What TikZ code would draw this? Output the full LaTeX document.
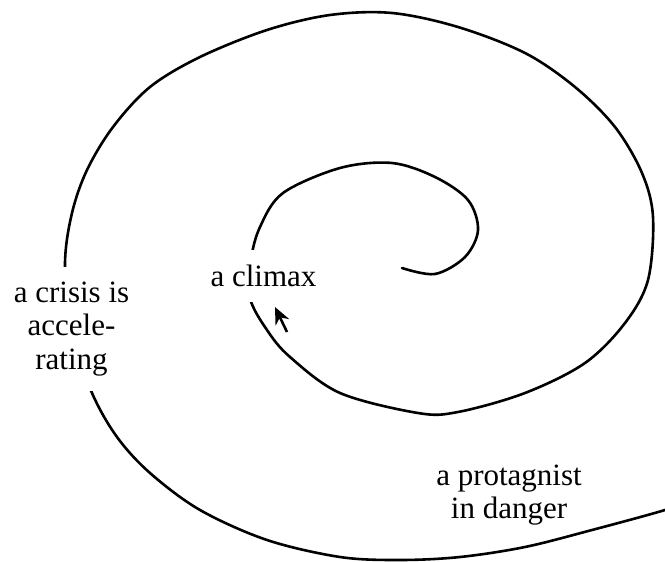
\documentclass[tikz,border=0pt]{standalone}
\usepackage{fontspec}
\setmainfont{Liberation Serif}
\usetikzlibrary{arrows.meta}

\begin{document}
\begin{tikzpicture}[
  x=1pt, y=-1pt,
  every node/.style={font=\fontsize{31}{33.5}\selectfont},
  spiral/.style={line width=2.6pt, line cap=round, smooth, tension=0.55},
  stage/.style={fill=white, align=center, inner sep=15pt},
  plain/.style={align=center, inner sep=2pt},
  pointer/.style={-{Stealth[length=17pt, width=15pt]}, line width=2.6pt}
]
\useasboundingbox (0,0) rectangle (665,562);
\clip (0,0) rectangle (665,562);

\draw[spiral] plot coordinates {
  (402,268) (435,274) (465,257) (478,230) (468,200) (435,177) (392,163)
  (340,168) (283,193) (260,227) (251,260) (250,298) (267,330) (290,357)
  (340,393) (418,413) (458,412) (525,393) (585,363) (625,323) (648,280)
  (653,217) (642,173) (615,127) (575,87) (525,53) (458,27) (392,13)
  (330,15) (267,30) (200,57) (150,87) (113,127) (87,170) (72,213)
  (65,263) (70,330) (92,393) (117,437) (150,473) (200,510) (267,540)
  (340,557) (400,560) (460,557) (525,547) (592,530) (665,510) (690,500)};

\node[stage] (climax) at (263.5,276) {a climax};
\node[stage] (crisis) at (71.5,329) {a crisis is\\accele-\\rating};
\node[plain] (danger) at (509,495) {a protagnist\\in danger};

\coordinate (tail) at (287,332);
\coordinate (tip) at (275,307);
\draw[pointer] (tail) -- (tip);
\end{tikzpicture}
\end{document}
